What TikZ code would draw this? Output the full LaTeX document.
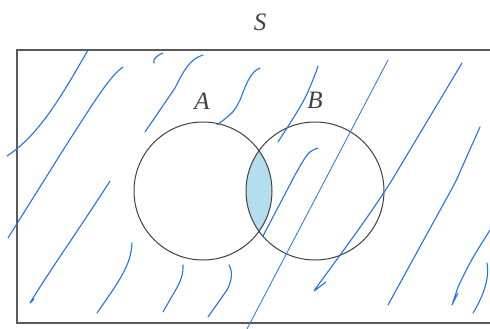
\documentclass[tikz,border=0pt]{standalone}
\usepackage{fontspec}
\setmainfont{Liberation Serif}
\usepackage{tikz}

\definecolor{penblue}{RGB}{35,115,228}
\definecolor{lensblue}{RGB}{180,222,238}

\begin{document}
\begin{tikzpicture}[
    x=1pt, y=-1pt,
    setlabel/.style={font=\fontsize{25}{27}\selectfont\itshape, text=black!75, inner sep=0pt},
    setline/.style={draw=black!75, line width=1pt},
    hatch/.style={draw=penblue, line width=1.1pt, line cap=round, line join=round},
    thinhatch/.style={hatch, line width=0.8pt},
  ]
  \useasboundingbox (0,0) rectangle (490,329);

  % sample space and the two events
  \draw[draw=black!65, line width=1.5pt] (17,50) rectangle (500,323);
  \begin{scope}
    \clip (203,191) circle (69);
    \fill[lensblue] (315,191) circle (69);
  \end{scope}
  \draw[setline] (203,191) circle (69);
  \draw[setline] (315,191) circle (69);

  \node[setlabel] (lblS) at (260,22)  {S};
  \node[setlabel] (lblA) at (202,101) {A};
  \node[setlabel] (lblB) at (315,100) {B};

  % hand drawn shading of the complement
  \draw[hatch] (88,50) .. controls (65,90) and (40,135) .. (7,156);
  \draw[hatch] (123,67) .. controls (110,76) and (95,100) .. (60,155) -- (8,238);
  \draw[hatch] (110,181) .. controls (80,228) and (50,270) .. (30,303) -- (34,299);
  \draw[hatch] (163,53) .. controls (156,56) and (153,59) .. (154,63);
  \draw[hatch] (203,55) .. controls (190,59) and (184,70) .. (175,88) -- (145,132);
  \draw[hatch] (260,68) .. controls (250,72) and (246,85) .. (240,100) .. controls (234,112) .. (217,125);
  \draw[hatch] (318,66) -- (316,72) .. controls (305,100) .. (278,142);
  \draw[thinhatch] (388,60) -- (247,329);
  \draw[hatch] (318,148) .. controls (308,152) .. (295,175) -- (263,236);
  \draw[hatch] (462,63) -- (392,180) .. controls (370,215) and (335,262) .. (316,288) -- (314,291) -- (326,282);
  \draw[hatch] (480,127) -- (455,183) -- (388,305) -- (393,296);
  \draw[hatch] (490,230) .. controls (470,262) .. (458,287) -- (452,305) -- (458,293);
  \draw[hatch] (487,263) .. controls (490,280) and (482,298) .. (473,313);
  \draw[hatch] (132,243) .. controls (131,265) and (120,280) .. (97,313);
  \draw[hatch] (183,265) .. controls (184,280) and (175,290) .. (163,312);
  \draw[hatch] (229,265) .. controls (233,272) and (232,280) .. (227,290) -- (208,317);
\end{tikzpicture}
\end{document}
